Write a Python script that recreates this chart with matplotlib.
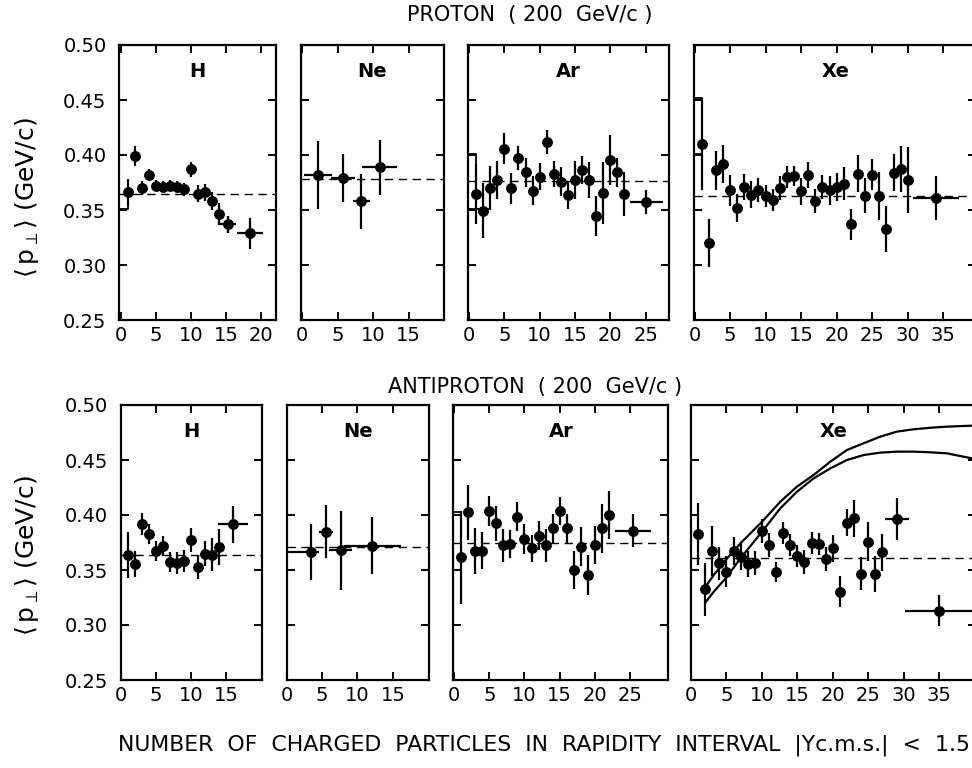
import matplotlib
matplotlib.use('Agg')
import matplotlib.pyplot as plt

# ---- proton beam, <p_T> vs number of charged particles ----
p_h_n = [1, 2, 3, 4, 5, 6, 7, 8, 9, 10, 11, 12, 13, 14, 15.2, 18.4]
p_h_pt = [0.366, 0.399, 0.370, 0.382, 0.372, 0.371, 0.372, 0.371, 0.369, 0.387,
          0.365, 0.366, 0.358, 0.346, 0.337, 0.329]
p_h_dpt = [0.012, 0.009, 0.006, 0.005, 0.005, 0.005, 0.005, 0.005, 0.006, 0.007,
           0.008, 0.008, 0.008, 0.010, 0.008, 0.014]
p_h_dn = [0.5] * 14 + [1.2, 1.8]

p_ne_n = [2.2, 5.7, 8.3, 10.9]
p_ne_pt = [0.382, 0.379, 0.358, 0.389]
p_ne_dpt = [0.031, 0.022, 0.025, 0.025]
p_ne_dn = [2.0, 1.7, 1.2, 2.5]

p_ar_n = list(range(1, 23)) + [25.1]
p_ar_pt = [0.3645, 0.3494, 0.3697, 0.3773, 0.4058, 0.3697, 0.3976, 0.3842, 0.3676, 0.3803,
           0.4121, 0.3827, 0.3758, 0.3636, 0.3773, 0.3864, 0.3773, 0.3445, 0.3652, 0.3955,
           0.3842, 0.3645, 0.357]
p_ar_dpt = [0.027, 0.025, 0.020, 0.017, 0.014, 0.014, 0.011, 0.013, 0.013, 0.012,
            0.011, 0.012, 0.013, 0.013, 0.017, 0.013, 0.016, 0.018, 0.028, 0.023,
            0.013, 0.020, 0.011]
p_ar_dn = [0.5] * 22 + [2.3]

p_xe_n = list(range(1, 31)) + [34]
p_xe_pt = [0.410, 0.320, 0.386, 0.392, 0.368, 0.352, 0.371, 0.364, 0.368, 0.363,
           0.359, 0.370, 0.380, 0.381, 0.367, 0.382, 0.358, 0.371, 0.368, 0.371,
           0.374, 0.337, 0.383, 0.363, 0.382, 0.363, 0.333, 0.384, 0.387, 0.377, 0.361]
p_xe_dpt = [0.042, 0.022, 0.018, 0.017, 0.014, 0.013, 0.012, 0.012, 0.011, 0.010,
            0.010, 0.011, 0.010, 0.009, 0.012, 0.012, 0.011, 0.011, 0.013, 0.013,
            0.015, 0.014, 0.017, 0.016, 0.014, 0.022, 0.021, 0.017, 0.021, 0.030, 0.020]
p_xe_dn = [0.5] * 30 + [3.2]

# ---- antiproton beam ----
ap_h_n = [1, 2, 3, 4, 5, 6, 7, 8, 9, 10, 11, 12, 13, 14, 15.9]
ap_h_pt = [0.364, 0.3555, 0.392, 0.383, 0.367, 0.372, 0.357, 0.356, 0.3585, 0.377,
           0.353, 0.365, 0.364, 0.371, 0.3915]
ap_h_dpt = [0.021, 0.012, 0.010, 0.009, 0.009, 0.009, 0.009, 0.010, 0.010, 0.011,
            0.011, 0.011, 0.015, 0.016, 0.017]
ap_h_dn = [0.5] * 14 + [2.1]

ap_ne_n = [3.5, 5.6, 7.6, 12.1]
ap_ne_pt = [0.366, 0.385, 0.368, 0.372]
ap_ne_dpt = [0.0255, 0.024, 0.036, 0.026]
ap_ne_dn_lo = [3.5, 1.0, 1.6, 4.0]
ap_ne_dn_hi = [1.1, 1.0, 1.6, 4.0]

ap_ar_n = list(range(1, 23)) + [25.4]
ap_ar_pt = [0.3615, 0.4024, 0.3676, 0.3676, 0.4036, 0.3924, 0.3727, 0.3736, 0.3985, 0.3782,
            0.3697, 0.3812, 0.3727, 0.3879, 0.4036, 0.3879, 0.350, 0.3712, 0.3455, 0.3727,
            0.3879, 0.400, 0.3858]
ap_ar_dpt = [0.042, 0.025, 0.021, 0.017, 0.014, 0.016, 0.015, 0.013, 0.013, 0.014,
             0.012, 0.013, 0.015, 0.013, 0.013, 0.013, 0.017, 0.018, 0.018, 0.017,
             0.022, 0.022, 0.015]
ap_ar_dn = [0.5] * 22 + [2.6]

ap_xe_n = list(range(1, 28)) + [29.1, 35]
ap_xe_pt = [0.3827, 0.3324, 0.3673, 0.356, 0.3485, 0.3673, 0.3621, 0.3555, 0.3567, 0.3855,
            0.3727, 0.3485, 0.3833, 0.3727, 0.363, 0.3576, 0.3742, 0.3736, 0.3597, 0.3697,
            0.3303, 0.393, 0.397, 0.3464, 0.3758, 0.3464, 0.366, 0.396, 0.313]
ap_xe_dpt = [0.028, 0.024, 0.023, 0.015, 0.014, 0.013, 0.012, 0.012, 0.011, 0.011,
             0.011, 0.009, 0.010, 0.010, 0.010, 0.011, 0.010, 0.010, 0.011, 0.012,
             0.014, 0.012, 0.017, 0.015, 0.018, 0.016, 0.017, 0.019, 0.014]
ap_xe_dn = [0.5] * 27 + [1.7, 4.8]

# mean <p_T> (dashed lines)
p_means = [0.365, 0.378, 0.376, 0.363]
ap_means = [0.364, 0.371, 0.375, 0.361]

# model curves for antiproton-Xe
curve_n = [2.04, 3.22, 5.09, 6.97, 10.02, 12.6, 14.95, 17.3, 19.65, 22.0, 24.34,
           26.69, 29.04, 31.39, 33.73, 36.08, 38.43, 39.65]
curve_hi = [0.3348, 0.3455, 0.3606, 0.3742, 0.3939, 0.4121, 0.4258, 0.4364, 0.4485,
            0.4591, 0.4652, 0.4712, 0.4758, 0.4779, 0.4793, 0.4803, 0.4809, 0.4812]
curve_lo = [0.3206, 0.3303, 0.3439, 0.3606, 0.3848, 0.4061, 0.4212, 0.4333, 0.4424,
            0.4500, 0.4545, 0.4567, 0.4576, 0.4576, 0.4570, 0.4561, 0.4530, 0.4515]

# small histogram steps at low multiplicity
p_h_step_n, p_h_step_pt = [0, 1, 1], [0.351, 0.351, 0.365]
p_ar_step_n, p_ar_step_pt = [0, 1, 1, 0, 1, 3], [0.401, 0.401, 0.376, 0.351, 0.351, 0.351]
p_xe_step_n, p_xe_step_pt = [0, 1, 1, 0], [0.452, 0.452, 0.401, 0.401]
ap_ar_step_n, ap_ar_step_pt = [0, 1, 1], [0.403, 0.403, 0.375]

W, H = 972, 768
plt.rcParams['font.family'] = ['DejaVu Sans']
plt.rcParams['mathtext.fontset'] = 'dejavusans'

fig = plt.figure(figsize=(W / 100, H / 100), dpi=100)


def add_axes_px(left, top, right, bottom):
    return fig.add_axes([left / W, 1 - bottom / H, (right - left) / W, (bottom - top) / H])


def draw_panel(ax, n, pt, dpt, dn, mean, label, xlim, xmax_tick, first):
    ax.errorbar(n, pt, yerr=dpt, xerr=dn, fmt='o', color='k', ms=6.8,
                elinewidth=1.6, capsize=0, zorder=3)
    ax.axhline(mean, color='k', lw=1.0, ls=(0, (6, 4)), zorder=2)
    ax.set_xlim(*xlim)
    ax.set_ylim(0.25, 0.50)
    ax.set_xticks(range(0, xmax_tick + 1, 5))
    ax.set_yticks([0.25, 0.30, 0.35, 0.40, 0.45, 0.50])
    ax.set_yticklabels(['0.25', '0.30', '0.35', '0.40', '0.45', '0.50'])
    ax.tick_params(direction='in', top=True, right=True, length=6, width=1.4,
                   labelsize=14, labelleft=first)
    ax.tick_params(axis='y', pad=9)
    ax.tick_params(axis='x', pad=4)
    for sp in ax.spines.values():
        sp.set_linewidth(1.6)
    ax.text(0.5, 0.905, label, transform=ax.transAxes, ha='center', va='center',
            fontsize=14, fontweight='bold')


# proton row
ax = add_axes_px(119, 45, 276, 320)
draw_panel(ax, p_h_n, p_h_pt, p_h_dpt, p_h_dn, p_means[0], 'H', (-0.29, 22.1), 20, True)
ax.plot(p_h_step_n, p_h_step_pt, color='k', lw=1.3)

ax = add_axes_px(300.7, 45, 444, 320)
draw_panel(ax, p_ne_n, p_ne_pt, p_ne_dpt, p_ne_dn, p_means[1], 'Ne', (-0.23, 20.0), 15, False)

ax = add_axes_px(467.7, 45, 669, 320)
draw_panel(ax, p_ar_n, p_ar_pt, p_ar_dpt, p_ar_dn, p_means[2], 'Ar', (-0.18, 28.3), 25, False)
ax.plot(p_ar_step_n[:3], p_ar_step_pt[:3], color='k', lw=1.3)
ax.plot(p_ar_step_n[3:], p_ar_step_pt[3:], color='k', lw=1.3)

ax = add_axes_px(694.3, 45, 976, 320)
draw_panel(ax, p_xe_n, p_xe_pt, p_xe_dpt, p_xe_dn, p_means[3], 'Xe', (-0.03, 39.6), 35, False)
ax.plot(p_xe_step_n, p_xe_step_pt, color='k', lw=1.3)

# antiproton row
ax = add_axes_px(120.7, 405, 262.3, 680)
draw_panel(ax, ap_h_n, ap_h_pt, ap_h_dpt, ap_h_dn, ap_means[0], 'H', (0.17, 20.1), 15, True)

ax = add_axes_px(286.7, 405, 429, 680)
draw_panel(ax, ap_ne_n, ap_ne_pt, ap_ne_dpt, [ap_ne_dn_lo, ap_ne_dn_hi], ap_means[1], 'Ne',
           (0.17, 20.1), 15, False)

ax = add_axes_px(453.3, 405, 668.3, 680)
draw_panel(ax, ap_ar_n, ap_ar_pt, ap_ar_dpt, ap_ar_dn, ap_means[2], 'Ar', (-0.1, 30.4), 25, False)
ax.plot(ap_ar_step_n, ap_ar_step_pt, color='k', lw=1.3)

ax = add_axes_px(691, 405, 976, 680)
draw_panel(ax, ap_xe_n, ap_xe_pt, ap_xe_dpt, ap_xe_dn, ap_means[3], 'Xe', (0.07, 40.2), 35, False)
ax.plot(curve_n, curve_hi, color='k', lw=1.6)
ax.plot(curve_n, curve_lo, color='k', lw=1.6)

# titles and axis labels
fig.text(530 / W, 1 - 15 / H, 'PROTON  ( 200  GeV/c )', ha='center', va='center', fontsize=15)
fig.text(535 / W, 1 - 387 / H, 'ANTIPROTON  ( 200  GeV/c )', ha='center', va='center', fontsize=15)
fig.text(118 / W, 1 - 745 / H,
         'NUMBER  OF  CHARGED  PARTICLES  IN  RAPIDITY  INTERVAL  |Yc.m.s.|  <  1.5',
         ha='left', va='center', fontsize=15.8)
ylab = r'$\langle\, \mathrm{p}_{\perp} \rangle$ (GeV/c)'
fig.text(27 / W, 1 - 198 / H, ylab, rotation=90, ha='center', va='center', fontsize=18)
fig.text(27 / W, 1 - 556 / H, ylab, rotation=90, ha='center', va='center', fontsize=18)

fig.savefig('out.png', dpi=100)
plt.close(fig)
